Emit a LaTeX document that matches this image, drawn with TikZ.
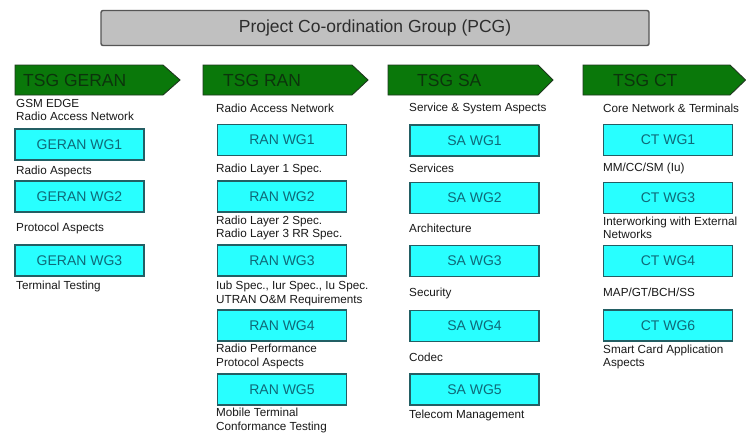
\documentclass[tikz,border=0pt]{standalone}
\usepackage{fontspec}
\setmainfont{Liberation Sans}
\definecolor{pcgfill}{RGB}{192,192,192}
\definecolor{pcgline}{RGB}{85,85,85}
\definecolor{pcgtext}{RGB}{45,45,45}
\definecolor{tsgfill}{RGB}{10,120,10}
\definecolor{tsgline}{RGB}{30,55,30}
\definecolor{tsgtext}{RGB}{12,52,12}
\definecolor{wgfill}{RGB}{40,255,255}
\definecolor{wgline}{RGB}{35,95,100}
\definecolor{wgtext}{RGB}{15,105,120}
\definecolor{lbltext}{RGB}{25,25,25}
\tikzset{
  pcgbox/.style={draw=pcgline, fill=pcgfill, line width=1.4pt, rounded corners=2pt,
    minimum width=548pt, minimum height=35pt, text=pcgtext,
    font=\fontsize{17.5}{19}\selectfont},
  tsgarrow/.style={draw=tsgline, fill=tsgfill, line width=0.9pt},
  tsgtxt/.style={anchor=west, inner sep=0pt, text=tsgtext, font=\fontsize{17.5}{19}\selectfont},
  wgbox/.style={draw=wgline, fill=wgfill, line width=1.2pt, minimum width=129pt,
    minimum height=31pt, inner sep=0pt, text=wgtext, font=\fontsize{14}{15}\selectfont},
  lbl/.style={anchor=west, inner sep=0pt, align=left, text=lbltext,
    font=\fontsize{11.7}{13.5}\selectfont}
}
\begin{document}
\begin{tikzpicture}[x=1pt, y=-1pt]
\useasboundingbox (0,0) rectangle (746,436);
\fill[white] (0,0) rectangle (746,436);

% steering group
\node[pcgbox] (pcg) at (375,28) {Project Co-ordination Group (PCG)};

% TSG banners
\path[tsgarrow] (15,65) -- (163,65) -- (180,80) -- (163,95) -- (15,95) -- cycle;
\node[tsgtxt] (tsgGeran) at (23,80) {TSG GERAN};
\path[tsgarrow] (203,65) -- (352,65) -- (368,80) -- (352,95) -- (203,95) -- cycle;
\node[tsgtxt] (tsgRan) at (223,80) {TSG RAN};
\path[tsgarrow] (388,65) -- (538,65) -- (553,80) -- (538,95) -- (388,95) -- cycle;
\node[tsgtxt] (tsgSa) at (417,80) {TSG SA};
\path[tsgarrow] (583,65) -- (730,65) -- (745.5,80) -- (730,95) -- (583,95) -- cycle;
\node[tsgtxt] (tsgCt) at (613,80) {TSG CT};

% GERAN column
\node[lbl] (geranLbl) at (16,110) {GSM EDGE\\Radio Access Network};
\node[wgbox] (geran1) at (79.5,144.5) {GERAN WG1};
\node[lbl] (geran1Lbl) at (16,171) {Radio Aspects};
\node[wgbox] (geran2) at (79.5,196.5) {GERAN WG2};
\node[lbl] (geran2Lbl) at (16,228) {Protocol Aspects};
\node[wgbox] (geran3) at (79.5,260.5) {GERAN WG3};
\node[lbl] (geran3Lbl) at (16,286) {Terminal Testing};

% RAN column
\node[lbl] (ranLbl) at (216,108) {Radio Access Network};
\node[wgbox] (ran1) at (282,140) {RAN WG1};
\node[lbl] (ran1Lbl) at (216,169) {Radio Layer 1 Spec.};
\node[wgbox] (ran2) at (282,196.5) {RAN WG2};
\node[lbl] (ran2Lbl) at (216,228) {Radio Layer 2 Spec.\\Radio Layer 3 RR Spec.};
\node[wgbox] (ran3) at (282,260.5) {RAN WG3};
\node[lbl] (ran3Lbl) at (216,293.5) {Iub Spec., Iur Spec., Iu Spec.\\UTRAN O\&M Requirements};
\node[wgbox] (ran4) at (282,325.5) {RAN WG4};
\node[lbl] (ran4Lbl) at (216,356.5) {Radio Performance\\Protocol Aspects};
\node[wgbox] (ran5) at (282,389.5) {RAN WG5};
\node[lbl] (ran5Lbl) at (216,420.5) {Mobile Terminal\\Conformance Testing};

% SA column
\node[lbl] (saLbl) at (409,108) {Service \& System Aspects};
\node[wgbox] (sa1) at (474.5,140.5) {SA WG1};
\node[lbl] (sa1Lbl) at (409,168) {Services};
\node[wgbox] (sa2) at (474.5,198) {SA WG2};
\node[lbl] (sa2Lbl) at (409,228) {Architecture};
\node[wgbox] (sa3) at (474.5,261) {SA WG3};
\node[lbl] (sa3Lbl) at (409,293) {Security};
\node[wgbox] (sa4) at (474.5,326) {SA WG4};
\node[lbl] (sa4Lbl) at (409,357) {Codec};
\node[wgbox] (sa5) at (474.5,389.5) {SA WG5};
\node[lbl] (sa5Lbl) at (409,415) {Telecom Management};

% CT column
\node[lbl] (ctLbl) at (603,108) {Core Network \& Terminals};
\node[wgbox] (ct1) at (668,140) {CT WG1};
\node[lbl] (ct1Lbl) at (603,168) {MM/CC/SM (Iu)};
\node[wgbox] (ct3) at (668,198) {CT WG3};
\node[lbl] (ct3Lbl) at (603,228) {Interworking with External\\Networks};
\node[wgbox] (ct4) at (668,261) {CT WG4};
\node[lbl] (ct4Lbl) at (603,292) {MAP/GT/BCH/SS};
\node[wgbox] (ct6) at (668,325.5) {CT WG6};
\node[lbl] (ct6Lbl) at (603,357) {Smart Card Application\\Aspects};
\end{tikzpicture}
\end{document}
